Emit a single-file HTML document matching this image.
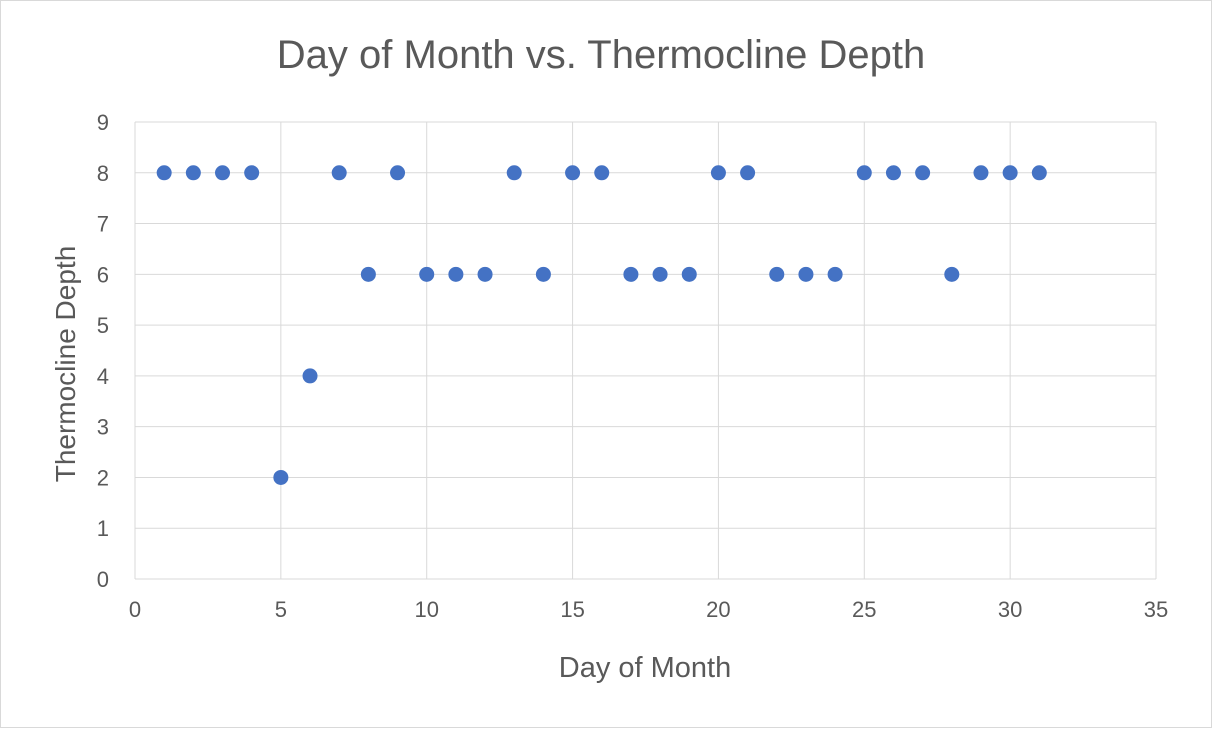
<!DOCTYPE html>
<html><head><meta charset="utf-8"><style>
html,body{margin:0;padding:0;background:#fff;}
svg{display:block;font-family:"Liberation Sans",sans-serif;}
</style></head><body>
<svg id="chart" width="1212" height="732">
<rect x="0.5" y="0.5" width="1211" height="727" fill="#fff" stroke="#d9d9d9"/>
<text x="601" y="68" text-anchor="middle" font-size="40" fill="#595959">Day of Month vs. Thermocline Depth</text>
<g id="grid"></g><g id="ticks"></g><g id="points"></g>
<text x="645" y="677" text-anchor="middle" font-size="29" fill="#595959">Day of Month</text>
<text transform="translate(75,364) rotate(-90)" text-anchor="middle" font-size="28" fill="#595959">Thermocline Depth</text>
</svg>
<script>
const days = [1,2,3,4,5,6,7,8,9,10,11,12,13,14,15,16,17,18,19,20,21,22,23,24,25,26,27,28,29,30,31];
const depths = [8,8,8,8,2,4,8,6,8,6,6,6,8,6,8,8,6,6,6,8,8,6,6,6,8,8,8,6,8,8,8];
const xTicks = [0,5,10,15,20,25,30,35];
const yTicks = [0,1,2,3,4,5,6,7,8,9];
const X0=135,X1=1156,Y0=579,Y1=122;
const xs=v=>X0+(v-0)/35*(X1-X0);
const ys=v=>Y0-(v-0)/9*(Y0-Y1);
const NS='http://www.w3.org/2000/svg';
const grid=document.getElementById('grid'),ticks=document.getElementById('ticks'),pts=document.getElementById('points');
function mk(tag,attrs,parent){const e=document.createElementNS(NS,tag);for(const k in attrs)e.setAttribute(k,attrs[k]);parent.appendChild(e);return e;}
xTicks.forEach(t=>{
 const l=mk('line',{x1:xs(t),x2:xs(t),y1:Y1,y2:Y0,stroke:'#d9d9d9','stroke-width':1},grid);
 
 
 const tx=mk('text',{x:xs(t),y:Y0+38,'text-anchor':'middle','font-size':22,fill:'#595959'},ticks);
 tx.textContent=t;
 
 
});
yTicks.forEach(t=>{
 const l=mk('line',{x1:X0,x2:X1,y1:ys(t),y2:ys(t),stroke:'#d9d9d9','stroke-width':1},grid);
 
 
 const tx=mk('text',{x:X0-26,y:ys(t)+8,'text-anchor':'end','font-size':22,fill:'#595959'},ticks);
 tx.textContent=t;
 
 
});
days.forEach((d,i)=>{
 const c=mk('circle',{cx:xs(d),cy:ys(depths[i]),r:7.5,fill:'#4472c4'},pts);
 
 
});
</script>
</body></html>
